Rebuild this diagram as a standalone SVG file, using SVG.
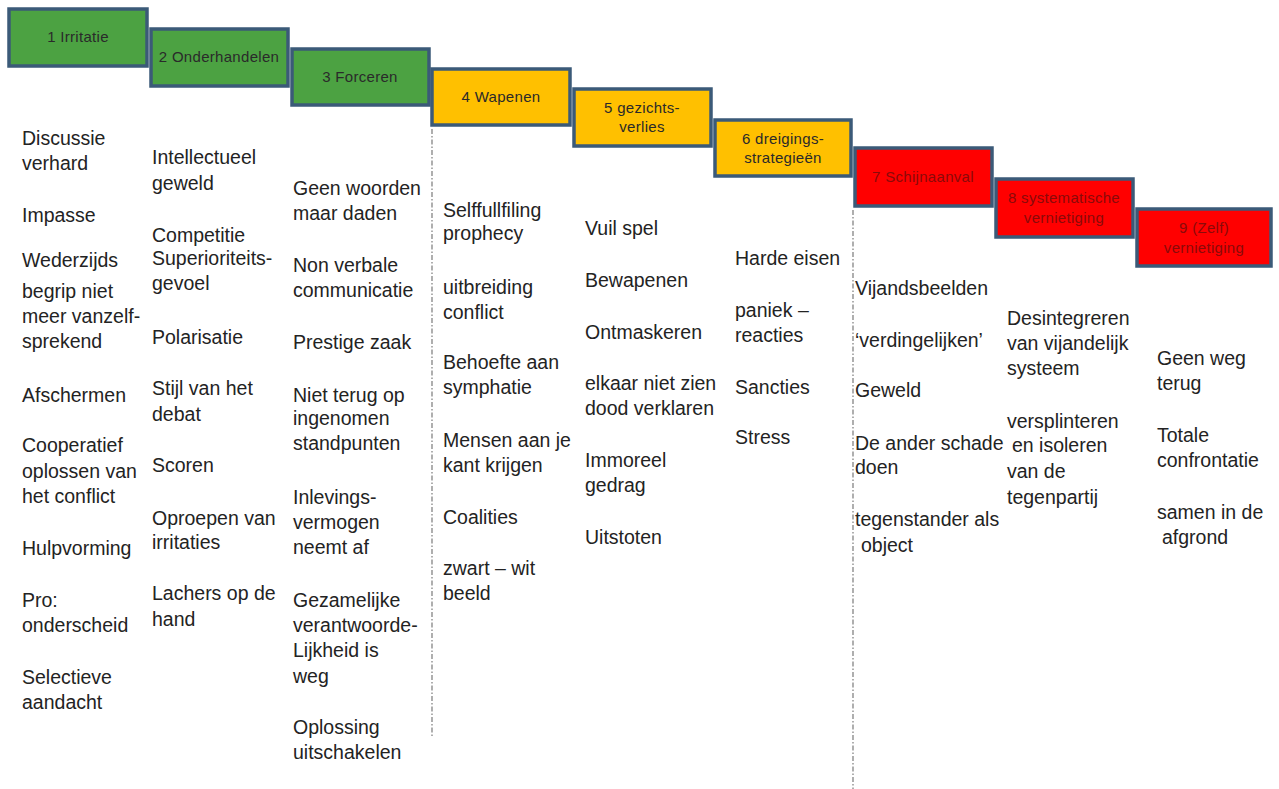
<svg xmlns="http://www.w3.org/2000/svg" width="1279" height="789" viewBox="0 0 1279 789">
<style>
.box{stroke:#3b5a78;stroke-width:3.5}
.g{fill:#4ca242}
.y{fill:#ffc000}
.r{fill:#ff0000}
.bt{font-family:"Liberation Sans",Arial,sans-serif;font-size:15px;letter-spacing:0.3px;text-anchor:middle;fill:#2a2a2a}
.rt{fill:#8a0a0a}
.it{font-family:"Liberation Sans",Arial,sans-serif;font-size:19.5px;fill:#232323}
.div{stroke:#7a7a7a;stroke-width:1.2;stroke-dasharray:5 2 1.5 2;fill:none}
</style>
<rect width="1279" height="789" fill="#ffffff"/>
<g id="dividers">
<line class="div" x1="432" y1="129" x2="432" y2="738"/>
<line class="div" x1="853" y1="210" x2="853" y2="789"/>
</g>
<g id="stage1">
<rect class="box g" x="9" y="9" width="138" height="57"/>
<text class="bt" x="78" y="42">1 Irritatie</text>
<text class="it" x="22" y="145">Discussie</text>
<text class="it" x="22" y="170">verhard</text>
<text class="it" x="22" y="222">Impasse</text>
<text class="it" x="22" y="267">Wederzijds</text>
<text class="it" x="22" y="298">begrip niet</text>
<text class="it" x="22" y="323">meer vanzelf-</text>
<text class="it" x="22" y="348">sprekend</text>
<text class="it" x="22" y="402">Afschermen</text>
<text class="it" x="22" y="452">Cooperatief</text>
<text class="it" x="22" y="478">oplossen van</text>
<text class="it" x="22" y="503">het conflict</text>
<text class="it" x="22" y="555">Hulpvorming</text>
<text class="it" x="22" y="607">Pro:</text>
<text class="it" x="22" y="632">onderscheid</text>
<text class="it" x="22" y="684">Selectieve</text>
<text class="it" x="22" y="709">aandacht</text>
</g>
<g id="stage2">
<rect class="box g" x="151" y="29" width="137" height="57"/>
<text class="bt" x="219" y="62">2 Onderhandelen</text>
<text class="it" x="152" y="164">Intellectueel</text>
<text class="it" x="152" y="190">geweld</text>
<text class="it" x="152" y="242">Competitie</text>
<text class="it" x="152" y="265">Superioriteits-</text>
<text class="it" x="152" y="290">gevoel</text>
<text class="it" x="152" y="344">Polarisatie</text>
<text class="it" x="152" y="395">Stijl van het</text>
<text class="it" x="152" y="421">debat</text>
<text class="it" x="152" y="472">Scoren</text>
<text class="it" x="152" y="525">Oproepen van</text>
<text class="it" x="152" y="549">irritaties</text>
<text class="it" x="152" y="600">Lachers op de</text>
<text class="it" x="152" y="626">hand</text>
</g>
<g id="stage3">
<rect class="box g" x="292" y="49" width="137" height="56"/>
<text class="bt" x="360" y="82">3 Forceren</text>
<text class="it" x="293" y="195">Geen woorden</text>
<text class="it" x="293" y="220">maar daden</text>
<text class="it" x="293" y="272">Non verbale</text>
<text class="it" x="293" y="297">communicatie</text>
<text class="it" x="293" y="349">Prestige zaak</text>
<text class="it" x="293" y="402">Niet terug op</text>
<text class="it" x="293" y="425">ingenomen</text>
<text class="it" x="293" y="450">standpunten</text>
<text class="it" x="293" y="504">Inlevings-</text>
<text class="it" x="293" y="529">vermogen</text>
<text class="it" x="293" y="554">neemt af</text>
<text class="it" x="293" y="607">Gezamelijke</text>
<text class="it" x="293" y="632">verantwoorde-</text>
<text class="it" x="293" y="657">Lijkheid is</text>
<text class="it" x="293" y="683">weg</text>
<text class="it" x="293" y="734">Oplossing</text>
<text class="it" x="293" y="759">uitschakelen</text>
</g>
<g id="stage4">
<rect class="box y" x="432" y="69" width="138" height="56"/>
<text class="bt" x="501" y="102">4 Wapenen</text>
<text class="it" x="443" y="217">Selffullfiling</text>
<text class="it" x="443" y="240">prophecy</text>
<text class="it" x="443" y="294">uitbreiding</text>
<text class="it" x="443" y="319">conflict</text>
<text class="it" x="443" y="369">Behoefte aan</text>
<text class="it" x="443" y="394">symphatie</text>
<text class="it" x="443" y="447">Mensen aan je</text>
<text class="it" x="443" y="472">kant krijgen</text>
<text class="it" x="443" y="524">Coalities</text>
<text class="it" x="443" y="575">zwart – wit</text>
<text class="it" x="443" y="600">beeld</text>
</g>
<g id="stage5">
<rect class="box y" x="574" y="89" width="137" height="57"/>
<text class="bt" x="642" y="113">5 gezichts-</text>
<text class="bt" x="642" y="132">verlies</text>
<text class="it" x="585" y="235">Vuil spel</text>
<text class="it" x="585" y="287">Bewapenen</text>
<text class="it" x="585" y="339">Ontmaskeren</text>
<text class="it" x="585" y="390">elkaar niet zien</text>
<text class="it" x="585" y="415">dood verklaren</text>
<text class="it" x="585" y="467">Immoreel</text>
<text class="it" x="585" y="492">gedrag</text>
<text class="it" x="585" y="544">Uitstoten</text>
</g>
<g id="stage6">
<rect class="box y" x="715" y="120" width="136" height="56"/>
<text class="bt" x="783" y="144">6 dreigings-</text>
<text class="bt" x="783" y="163">strategieën</text>
<text class="it" x="735" y="265">Harde eisen</text>
<text class="it" x="735" y="317">paniek –</text>
<text class="it" x="735" y="342">reacties</text>
<text class="it" x="735" y="394">Sancties</text>
<text class="it" x="735" y="444">Stress</text>
</g>
<g id="stage7">
<rect class="box r" x="855" y="148" width="137" height="58"/>
<text class="bt rt" x="923" y="182">7 Schijnaanval</text>
<text class="it" x="855" y="295">Vijandsbeelden</text>
<text class="it" x="855" y="347">‘verdingelijken’</text>
<text class="it" x="855" y="397">Geweld</text>
<text class="it" x="855" y="450">De ander schade</text>
<text class="it" x="855" y="474">doen</text>
<text class="it" x="855" y="526">tegenstander als</text>
<text class="it" x="861" y="552">object</text>
</g>
<g id="stage8">
<rect class="box r" x="996" y="179" width="137" height="58"/>
<text class="bt rt" x="1064" y="203">8 systematische</text>
<text class="bt rt" x="1064" y="223">vernietiging</text>
<text class="it" x="1007" y="325">Desintegreren</text>
<text class="it" x="1007" y="350">van vijandelijk</text>
<text class="it" x="1007" y="375">systeem</text>
<text class="it" x="1007" y="428">versplinteren</text>
<text class="it" x="1012" y="452">en isoleren</text>
<text class="it" x="1007" y="478">van de</text>
<text class="it" x="1007" y="504">tegenpartij</text>
</g>
<g id="stage9">
<rect class="box r" x="1137" y="209" width="134" height="57"/>
<text class="bt rt" x="1204" y="233">9 (Zelf)</text>
<text class="bt rt" x="1204" y="253">vernietiging</text>
<text class="it" x="1157" y="365">Geen weg</text>
<text class="it" x="1157" y="390">terug</text>
<text class="it" x="1157" y="442">Totale</text>
<text class="it" x="1157" y="467">confrontatie</text>
<text class="it" x="1157" y="519">samen in de</text>
<text class="it" x="1162" y="544">afgrond</text>
</g>
</svg>
